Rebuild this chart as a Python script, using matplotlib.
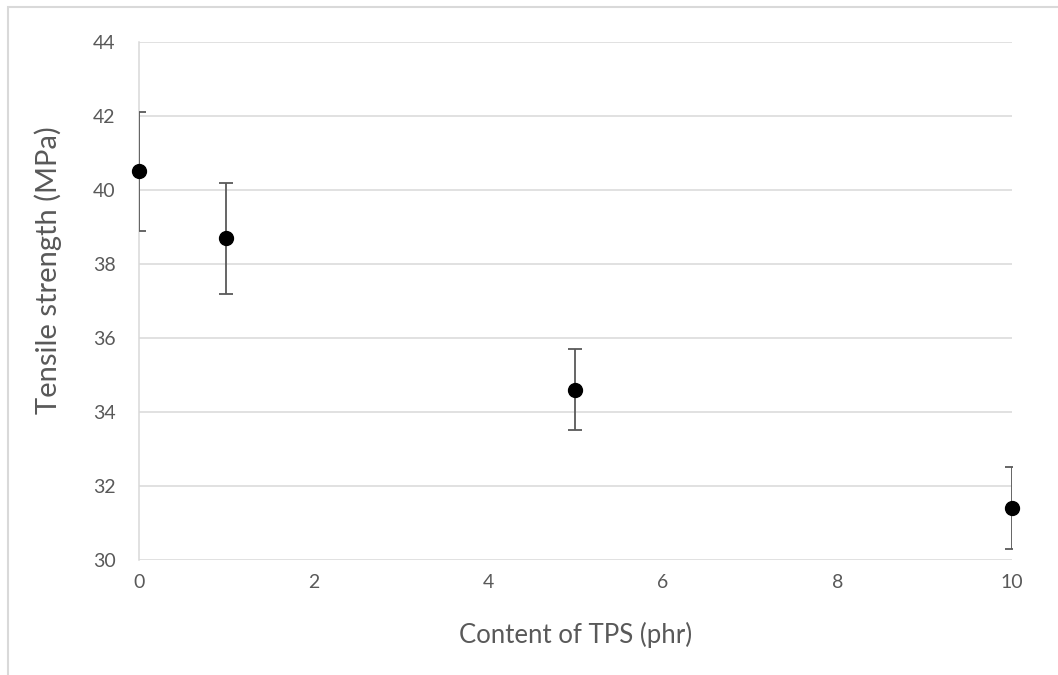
import matplotlib.pyplot as plt
from matplotlib.patches import Rectangle

# tensile strength vs TPS content
tps_content = [0, 1, 5, 10]
tensile_strength = [40.5, 38.7, 34.6, 31.4]
strength_err = [1.6, 1.5, 1.1, 1.1]

plt.rcParams['font.family'] = ['Lato', 'DejaVu Sans']

fig = plt.figure(figsize=(10.58, 6.75), dpi=100)
ax = fig.add_axes([0.1314, 0.1704, 0.8251, 0.7674])

# light frame round the chart area
fig.patches.append(Rectangle((7.5 / 1058, -0.1), 1.2, 1.1 - 7.5 / 675,
                             transform=fig.transFigure, fill=False,
                             edgecolor='#d9d9d9', linewidth=1.5))

ax.errorbar(tps_content, tensile_strength, yerr=strength_err, fmt='none',
            ecolor='#595959', elinewidth=1.3, capsize=5, capthick=1.3, zorder=3)
ax.plot(tps_content, tensile_strength, 'o', color='black', ms=10,
        clip_on=False, zorder=4)

ax.set_xlim(0, 10)
ax.set_ylim(30, 44)
ax.set_xticks(range(0, 11, 2))
ax.set_yticks(range(30, 45, 2))
ax.grid(axis='y', color='#d9d9d9', linewidth=1.1)
ax.set_axisbelow(True)
for side in ['top', 'right', 'bottom']:
    ax.spines[side].set_visible(False)
ax.spines['left'].set_color('#d9d9d9')
ax.spines['left'].set_linewidth(1.1)
ax.tick_params(length=0, labelsize=14, labelcolor='#595959')
ax.tick_params(axis='x', pad=10)
ax.tick_params(axis='y', pad=17)

ax.set_xlabel('Content of TPS (phr)', fontsize=18.5, color='#595959', labelpad=22)
ax.set_ylabel('Tensile strength (MPa)', fontsize=21, color='#595959')
ax.yaxis.set_label_coords(-0.088, 0.56)

plt.savefig('out.png', dpi=100)
